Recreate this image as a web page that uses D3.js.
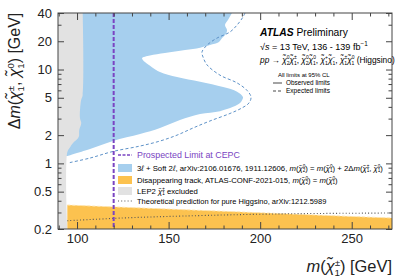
<!DOCTYPE html>
<html>
<head>
<meta charset="utf-8">
<script src="https://cdn.jsdelivr.net/npm/d3@7"></script>
<style>
  body { margin: 0; background: #fff; }
  svg { display: block; font-family: "Liberation Sans", Arial, sans-serif; }
</style>
</head>
<body>
<svg id="chart" width="399" height="277"></svg>
<script>
// values (m in GeV, dm in GeV)
var xMajorTicks = [100, 150, 200, 250];
var xMinorTicks = d3.range(90, 271, 10);
var yLabelTicks = [0.2, 0.5, 1, 2, 5, 10, 20, 40];
var yMinorTicks = [0.3, 0.4, 0.6, 0.7, 0.8, 0.9, 3, 4, 6, 7, 8, 9, 30];
var cepcLimit = 120;

// 3l + soft 2l observed exclusion edge, top to bottom
var observed = [
  [184.6, 40], [182.4, 33.6], [180.8, 29.8], [181.9, 26.3], [181.3, 23.9],
  [179.2, 21.6], [177.5, 19.6], [172.6, 18.2], [167.2, 17.1], [159.0, 16.1],
  [148.0, 15.0], [139.8, 14.1], [135.5, 13.2], [137.1, 12.0], [140.9, 10.6],
  [145.3, 9.4], [154.6, 8.3], [167.2, 7.4], [179.8, 6.5], [187.4, 5.8],
  [190.6, 5.1], [190.1, 4.7], [189.0, 4.4], [185.2, 4.0], [178.1, 3.6],
  [167.2, 3.35], [156.2, 2.9], [145.3, 2.38], [134.4, 2.05], [119.6, 1.73],
  [107.1, 1.42], [95.0, 1.20]
];
// expected limit (dashed)
var expected = [
  [191.7, 40], [190.6, 36.2], [187.4, 29.8], [183.5, 25.1], [176.4, 21.6],
  [171.0, 18.2], [168.2, 15.3], [168.8, 13.6], [171.0, 11.2], [178.1, 8.7],
  [187.4, 7.2], [192.8, 6.0], [195.0, 5.1], [193.9, 4.4], [190.1, 3.9],
  [183.5, 3.4], [172.6, 2.83], [163.3, 2.38], [154.6, 2.0], [145.3, 1.73],
  [134.4, 1.53], [119.6, 1.34], [107.1, 1.14], [95.0, 1.01]
];
// LEP2 excluded edge
var lep = [
  [103.1, 40], [103.1, 5.35], [102.2, 4.7], [101.6, 3.04], [102.3, 2.69],
  [101.2, 2.27], [100.9, 1.91], [97.8, 1.65], [96.2, 1.49], [94.7, 1.32], [94.7, 0.2]
];
// disappearing track upper edge
var disTrack = [[94.7, 0.36], [150, 0.326], [200, 0.298], [250, 0.272], [272, 0.262]];
// pure higgsino prediction
var theory = [[94.7, 0.245], [125, 0.262], [157.9, 0.275], [212.5, 0.29], [272, 0.296]];

var C = {
  blue: "#a6cfee", expBlue: "#5e92c8", orange: "#fcc24f", gray: "#e2e2e2",
  purple: "#7a44c2", frame: "#444", text: "#222"
};

var L = 58, R = 392, T = 13, B = 229;
var x = d3.scaleLinear().domain([89.6, 272]).range([L, R]);
var y = d3.scaleLog().domain([0.2, 40]).range([B, T]);

var svg = d3.select("#chart");
svg.append("defs").append("clipPath").attr("id", "plot")
  .append("rect").attr("x", L).attr("y", T).attr("width", R - L).attr("height", B - T);

var plot = svg.append("g").attr("clip-path", "url(#plot)");
var smooth = d3.line().x(function(d) { return x(d[0]); }).y(function(d) { return y(d[1]); })
  .curve(d3.curveCatmullRom.alpha(0.5));
var straight = d3.line().x(function(d) { return x(d[0]); }).y(function(d) { return y(d[1]); });

// blue observed region
plot.append("path")
  .attr("d", smooth(observed) + "L" + x(89.6) + "," + y(1.2) + "L" + x(89.6) + "," + y(40) + "Z")
  .attr("fill", C.blue);

// orange disappearing track region
plot.append("path")
  .attr("d", straight(disTrack) + "L" + x(272) + "," + y(0.2) + "L" + x(94.7) + "," + y(0.2) + "Z")
  .attr("fill", C.orange);
plot.append("path").attr("d", straight(disTrack))
  .attr("fill", "none").attr("stroke", "#ffe6b0").attr("stroke-width", 1)
  .attr("stroke-dasharray", "3,2");

// LEP region
plot.append("path")
  .attr("d", smooth(lep) + "L" + x(89.6) + "," + y(0.2) + "L" + x(89.6) + "," + y(40) + "Z")
  .attr("fill", C.gray);

// expected dashed
plot.append("path").attr("d", smooth(expected))
  .attr("fill", "none").attr("stroke", C.expBlue).attr("stroke-width", 1)
  .attr("stroke-dasharray", "3,2.2");

// theory dotted
plot.append("path").attr("d", smooth(theory))
  .attr("fill", "none").attr("stroke", "#555").attr("stroke-width", 1.1)
  .attr("stroke-dasharray", "1,2.2");

// CEPC prospect
plot.append("line")
  .attr("x1", x(cepcLimit)).attr("x2", x(cepcLimit)).attr("y1", T).attr("y2", B)
  .attr("stroke", C.purple).attr("stroke-width", 2).attr("stroke-dasharray", "4,2");

// axes (ticks inward)
function styleAxis(g) {
  g.select(".domain").remove();
  g.selectAll(".tick line").attr("stroke", C.frame);
  g.selectAll(".tick text").attr("fill", C.text).attr("font-size", 13)
    .attr("font-family", "Liberation Sans, Arial, sans-serif");
}
var xMinor = xMinorTicks.filter(function(v) { return xMajorTicks.indexOf(v) < 0; });
svg.append("g").attr("transform", "translate(0," + B + ")")
  .call(d3.axisBottom(x).tickValues(xMajorTicks).tickSize(-7).tickPadding(5).tickFormat(d3.format("d")))
  .call(styleAxis);
svg.append("g").attr("transform", "translate(0," + B + ")")
  .call(d3.axisBottom(x).tickValues(xMinor).tickSize(-3.5).tickFormat(""))
  .call(styleAxis);
svg.append("g").attr("transform", "translate(0," + T + ")")
  .call(d3.axisTop(x).tickValues(xMajorTicks).tickSize(-7).tickFormat(""))
  .call(styleAxis);
svg.append("g").attr("transform", "translate(0," + T + ")")
  .call(d3.axisTop(x).tickValues(xMinor).tickSize(-3.5).tickFormat(""))
  .call(styleAxis);

svg.append("g").attr("transform", "translate(" + L + ",0)")
  .call(d3.axisLeft(y).tickValues(yLabelTicks).tickSize(-6).tickPadding(6).tickFormat(d3.format("~g")))
  .call(styleAxis);
svg.append("g").attr("transform", "translate(" + L + ",0)")
  .call(d3.axisLeft(y).tickValues(yMinorTicks).tickSize(-3.5).tickFormat(""))
  .call(styleAxis);
svg.append("g").attr("transform", "translate(" + R + ",0)")
  .call(d3.axisRight(y).tickValues(yLabelTicks).tickSize(-6).tickFormat(""))
  .call(styleAxis);
svg.append("g").attr("transform", "translate(" + R + ",0)")
  .call(d3.axisRight(y).tickValues(yMinorTicks).tickSize(-3.5).tickFormat(""))
  .call(styleAxis);

svg.append("rect").attr("x", L).attr("y", T).attr("width", R - L).attr("height", B - T)
  .attr("fill", "none").attr("stroke", C.frame).attr("stroke-width", 1);

// rich text: strings, {i:}, {b:}, {sup:}, {st:[up,down]}
function rich(t, parts, fs) {
  var k = 0.6, pend = 0;
  t.attr("font-size", fs);
  function span(txt) {
    var s = t.append("tspan").text(txt);
    if (pend) { s.attr("dy", pend); pend = 0; }
    return s;
  }
  parts.forEach(function(p) {
    if (typeof p === "string") span(p);
    else if (p.i) span(p.i).attr("font-style", "italic");
    else if (p.b) span(p.b).attr("font-style", "italic").attr("font-weight", "bold");
    else if (p.sup) {
      t.append("tspan").attr("dy", -fs * 0.4 + pend).attr("font-size", fs * 0.7).text(p.sup);
      pend = fs * 0.4;
    } else if (p.st) {
      var s2 = fs * k;
      t.append("tspan").attr("dy", -fs * 0.38 + pend).attr("font-size", s2).text(p.st[0]);
      t.append("tspan").attr("dx", -s2 * 0.57).attr("dy", fs * 0.62).attr("font-size", s2).text(p.st[1]);
      pend = -fs * 0.24;
    }
  });
  return t;
}
// size a label so that it spans the width it has in the reference
function fitText(t, parts, width) {
  rich(t, parts, 10);
  var w = t.node().getBBox().width;
  t.selectAll("tspan").remove();
  return rich(t, parts, 10 * width / w);
}
var chi = { i: "\u03c7\u0303" };

// axis titles
var yt = svg.append("text").attr("transform", "translate(20,71) rotate(-90)")
  .attr("text-anchor", "middle").attr("fill", C.text);
fitText(yt, ["\u0394", { i: "m" }, "(", chi, { st: ["\u00b1", "1"] }, ", ", chi, { st: ["0", "1"] }, ") [GeV]"], 117);

var xt = svg.append("text").attr("x", R).attr("y", 272)
  .attr("text-anchor", "end").attr("fill", C.text);
fitText(xt, [{ i: "m" }, "(", chi, { st: ["\u00b1", "1"] }, ") [GeV]"], 86);

// top-right labels
var at = svg.append("text").attr("x", 260).attr("y", 36).attr("fill", "#000");
fitText(at, [{ b: "ATLAS" }, " Preliminary"], 89);

var rs = svg.append("text").attr("x", 260).attr("y", 50).attr("fill", "#000");
fitText(rs, ["\u221a", { i: "s" }, " = 13 TeV, 136 - 139 fb", { sup: "\u22121" }], 108);

var pp = svg.append("text").attr("x", 260).attr("y", 62.5).attr("fill", "#000");
fitText(pp, [{ i: "pp" }, " \u2192 ", chi, { st: ["0", "2"] }, chi, { st: ["\u00b1", "1"] }, ", ",
  chi, { st: ["0", "2"] }, chi, { st: ["0", "1"] }, ", ", chi, { st: ["+", "1"] }, chi, { st: ["\u2212", "1"] }, ", ",
  chi, { st: ["\u00b1", "1"] }, chi, { st: ["0", "1"] }, " (Higgsino)"], 136);

var al = svg.append("text").attr("x", 278).attr("y", 77).attr("fill", "#000");
fitText(al, ["All limits at 95% CL"], 52);
var limStyles = [["Observed limits", null, 85], ["Expected limits", "3,2", 93]];
limStyles.forEach(function(d) {
  svg.append("line").attr("x1", 273).attr("x2", 282).attr("y1", d[2] - 2).attr("y2", d[2] - 2)
    .attr("stroke", "#333").attr("stroke-width", 0.9).attr("stroke-dasharray", d[1]);
  var t = svg.append("text").attr("x", 286).attr("y", d[2]).attr("fill", "#000");
  fitText(t, [d[0]], 44);
});

// legend
var lg = svg.append("g");
lg.append("line").attr("x1", 118).attr("x2", 132).attr("y1", 155).attr("y2", 155)
  .attr("stroke", C.purple).attr("stroke-width", 1.3).attr("stroke-dasharray", "3,1.5");
var pl = lg.append("text").attr("x", 137).attr("y", 158.3).attr("fill", C.purple);
fitText(pl, ["Prospected Limit at CEPC"], 103);

var rows = [
  { y: 168, w: 246, fill: C.blue, parts: ["3", { i: "\u2113" }, " + Soft 2", { i: "\u2113" }, ", arXiv:2106.01676, 1911.12606, ",
    { i: "m" }, "(", chi, { st: ["0", "2"] }, ") = ", { i: "m" }, "(", chi, { st: ["0", "1"] }, ") + 2\u0394", { i: "m" }, "(",
    chi, { st: ["\u00b1", "1"] }, ", ", chi, { st: ["0", "1"] }, ")"] },
  { y: 180, w: 201, fill: C.orange, parts: ["Disappearing track, ATLAS-CONF-2021-015, ", { i: "m" }, "(", chi, { st: ["0", "2"] },
    ") = ", { i: "m" }, "(", chi, { st: ["0", "1"] }, ")"] },
  { y: 191, w: 61, fill: C.gray, parts: ["LEP2 ", chi, { st: ["\u00b1", "1"] }, " excluded"] },
  { y: 201, w: 190, fill: null, parts: ["Theoretical prediction for pure Higgsino, arXiv:1212.5989"] }
];
rows.forEach(function(r) {
  if (r.fill) {
    lg.append("rect").attr("x", 118).attr("y", r.y - 4).attr("width", 14).attr("height", 8).attr("fill", r.fill);
  } else {
    lg.append("line").attr("x1", 118).attr("x2", 132).attr("y1", r.y).attr("y2", r.y)
      .attr("stroke", "#555").attr("stroke-width", 1.1).attr("stroke-dasharray", "1,2.2");
  }
  var t = lg.append("text").attr("x", 137).attr("y", r.y + 2.6).attr("fill", "#000");
  fitText(t, r.parts, r.w);
});
</script>
</body>
</html>
